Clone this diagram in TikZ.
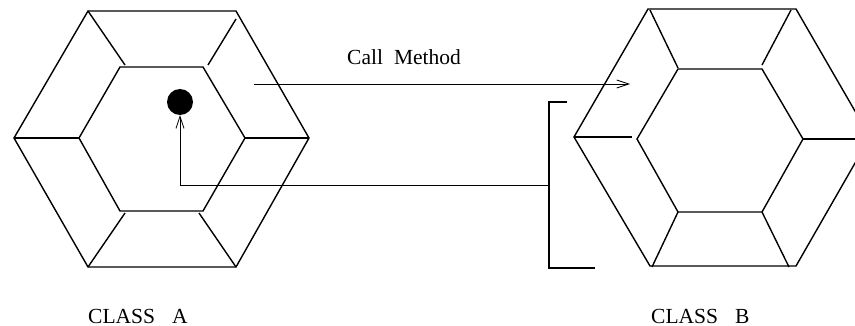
\documentclass[tikz,border=0pt]{standalone}
\usepackage{fontspec}
\setmainfont{Liberation Serif}
\usetikzlibrary{arrows.meta}
\tikzset{
  hexline/.style={line width=1.4pt, line join=miter},
  arrline/.style={line width=0.8pt},
  brk/.style={line width=1.3pt},
  lbl/.style={anchor=base west, inner sep=0pt, font=\fontsize{21.5}{24}\selectfont},
  dotnode/.style={circle, fill=black, minimum size=26pt, inner sep=0pt},
  barb/.style={-{Straight Barb[length=12pt,width=8pt,line width=0.8pt]}}
}
\begin{document}
\begin{tikzpicture}[x=1pt,y=-1pt]
\useasboundingbox (0,0) rectangle (855,326);
\clip (0,0) rectangle (855,326);
% ---------- Hexagon A ----------
\coordinate (a1) at (88,11);  \coordinate (a2) at (236,11);
\coordinate (a3) at (309,138); \coordinate (a4) at (236,267);
\coordinate (a5) at (88,267); \coordinate (a6) at (14,138);
\coordinate (ai1) at (120,67); \coordinate (ai2) at (203,67);
\coordinate (ai3) at (245,138); \coordinate (ai4) at (203,211);
\coordinate (ai5) at (120,211); \coordinate (ai6) at (79,138);
\draw[hexline] (a1) -- (a2) -- (a3) -- (a4) -- (a5) -- (a6) -- cycle;
\draw[hexline] (ai1) -- (ai2) -- (ai3) -- (ai4) -- (ai5) -- (ai6) -- cycle;
\coordinate (as1) at (125,65); \coordinate (as2s) at (236,19); \coordinate (as2) at (208,65);
\coordinate (as5) at (125,213); \coordinate (as4) at (199,213);
\draw[hexline] (a1) -- (as1);
\draw[hexline] (as2s) -- (as2);
\draw[hexline] (a6) -- (ai6);
\draw[hexline] (ai3) -- (a3);
\draw[hexline] (as5) -- (a5);
\draw[hexline] (as4) -- (a4);
% ---------- Hexagon B ----------
\coordinate (b1) at (648,9);  \coordinate (b2) at (796,9);
\coordinate (b3) at (870,137); \coordinate (b4) at (796,266);
\coordinate (b5) at (650,266); \coordinate (b6) at (574,137);
\coordinate (bi1) at (678,69); \coordinate (bi2) at (762,69);
\coordinate (bi3) at (803,139); \coordinate (bi4) at (762,212);
\coordinate (bi5) at (678,212); \coordinate (bi6) at (637,139);
\draw[hexline] (b1) -- (b2) -- (b3) -- (b4) -- (b5) -- (b6) -- cycle;
\draw[hexline] (bi1) -- (bi2) -- (bi3) -- (bi4) -- (bi5) -- (bi6) -- cycle;
\coordinate (bs1s) at (650,10); \coordinate (bs1) at (678,68);
\coordinate (bs2s) at (791,10); \coordinate (bs2) at (762,65);
\coordinate (bs6) at (632,137); \coordinate (bs3) at (870,139);
\coordinate (bs5) at (652,267); \coordinate (bs4) at (789,267);
\draw[hexline] (bs1s) -- (bs1);
\draw[hexline] (bs2s) -- (bs2);
\draw[hexline] (b6) -- (bs6);
\draw[hexline] (bi3) -- (bs3);
\draw[hexline] (bi5) -- (bs5);
\draw[hexline] (bi4) -- (bs4);
% ---------- dot and arrows ----------
\node[dotnode] (dot) at (180,102) {};
\coordinate (cmS) at (254,84); \coordinate (cmE) at (630,84);
\draw[arrline,barb] (cmS) -- (cmE);
\node[lbl] (callm) at (347,65) {Call\hspace{11pt}Method};
% bracket
\coordinate (brT) at (567,102); \coordinate (brTL) at (549,102);
\coordinate (brBL) at (549,268); \coordinate (brB) at (595,268);
\coordinate (brM) at (549,185); \coordinate (retC) at (180,185);
\draw[brk] (brT) -- (brTL) -- (brBL) -- (brB);
\draw[arrline,barb] (brM) -- (retC) -- (dot.south);
% labels
\node[lbl] (clA) at (88,323) {CLASS\hspace{17pt}A};
\node[lbl] (clB) at (651,323) {CLASS\hspace{17pt}B};
\end{tikzpicture}
\end{document}
